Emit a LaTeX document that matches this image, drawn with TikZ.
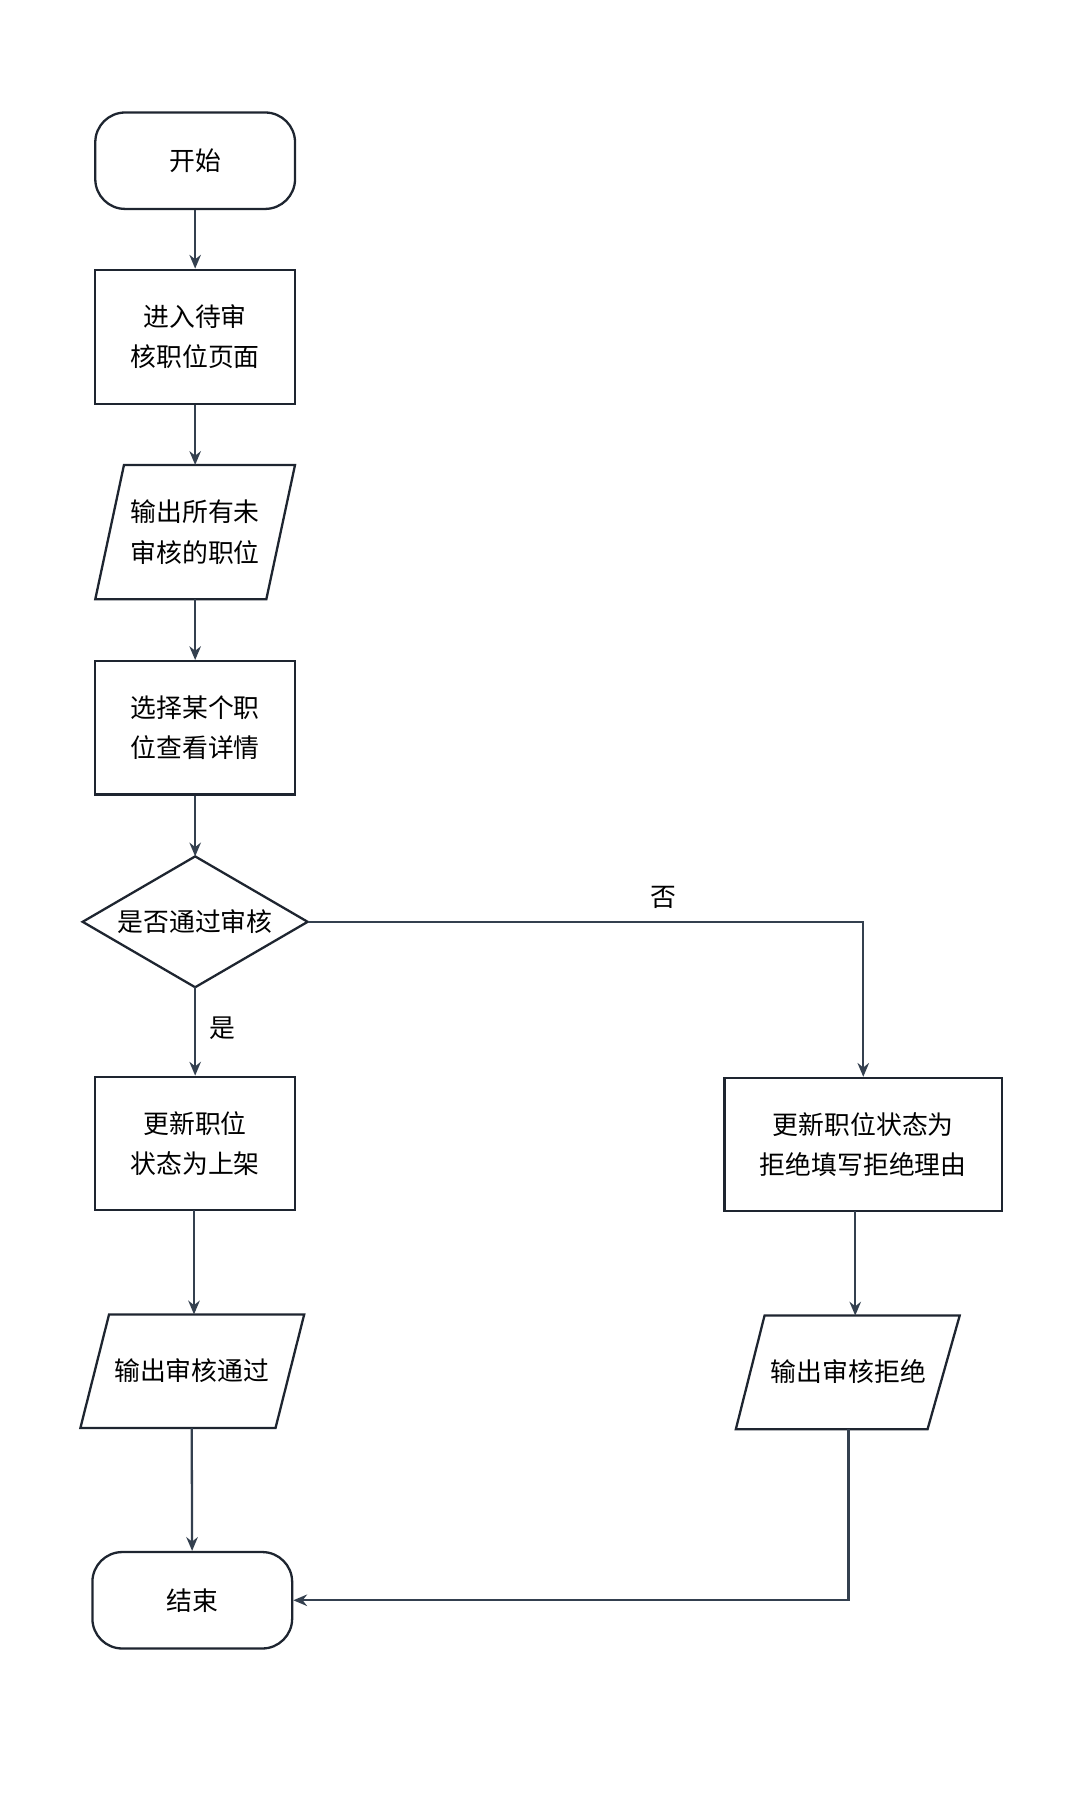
\documentclass[tikz,border=0pt]{standalone}
\usepackage{fontspec}
\setmainfont{Noto Sans CJK SC}
\usetikzlibrary{arrows.meta}
\definecolor{ln}{HTML}{1E2530}
\definecolor{ar}{HTML}{34404F}
\begin{document}
\begin{tikzpicture}[x=1pt,y=-1pt,
  box/.style={draw=ln,line width=2pt,minimum width=174pt,align=center,font=\fontsize{22.5}{35}\selectfont},
  txt/.style={align=center,font=\fontsize{22.5}{35}\selectfont},
  arr/.style={draw=ar,line width=2pt,-{Stealth[length=12pt,width=10pt]}},
  par/.style={draw=ln,line width=2pt}]
\useasboundingbox (0,0) rectangle (946,1568);
\node[box,rounded corners=26pt,minimum height=84pt] (start) at (170,140) {开始};
\node[box,minimum height=117pt] (b1) at (170,293.5) {进入待审\\核职位页面};
\draw[par] (108,405)--(257,405)--(232,522)--(83,522)--cycle;
\node[txt,minimum height=117pt] (p1) at (170,463.5) {输出所有未\\审核的职位};
\node[box,minimum height=116pt] (b2) at (170,634) {选择某个职\\位查看详情};
\draw[par] (170,746)--(268,803)--(170,860)--(72,803)--cycle;
\node[txt] (d) at (170,803) {是否通过审核};
\coordinate (dt) at (170,746); \coordinate (db) at (170,860); \coordinate (dr) at (268,803);
\node[box,minimum height=116pt] (b3) at (170,996) {更新职位\\状态为上架};
\draw[par] (95,1145)--(265,1145)--(240,1244)--(70,1244)--cycle;
\node[txt] (p2) at (167,1194) {输出审核通过};
\node[box,rounded corners=26pt,minimum height=84pt] (end) at (167.5,1394) {结束};
\node[box,minimum width=242pt,minimum height=116pt] (b4) at (752,997) {更新职位状态为\\拒绝填写拒绝理由};
\draw[par] (666,1146)--(836,1146)--(808,1245)--(641,1245)--cycle;
\node[txt] (p3) at (739,1195) {输出审核拒绝};
\draw[arr] (start) -- (b1);
\draw[arr] (b1) -- (170,405);
\draw[arr] (170,522) -- (b2);
\draw[arr] (b2) -- (dt);
\draw[arr] (db) -- (b3);
\node[txt] at (194,896) {是};
\draw[arr] (dr) -- (752,803) -- (b4.north);
\node[txt] at (578,782) {否};
\draw[arr] (169,1054) -- (169,1145);
\draw[arr] (167,1244) -- (end);
\draw[arr] (745,1055) -- (745,1146);
\draw[arr] (739,1245) -- (739,1394) -- (end.east);
\end{tikzpicture}
\end{document}
